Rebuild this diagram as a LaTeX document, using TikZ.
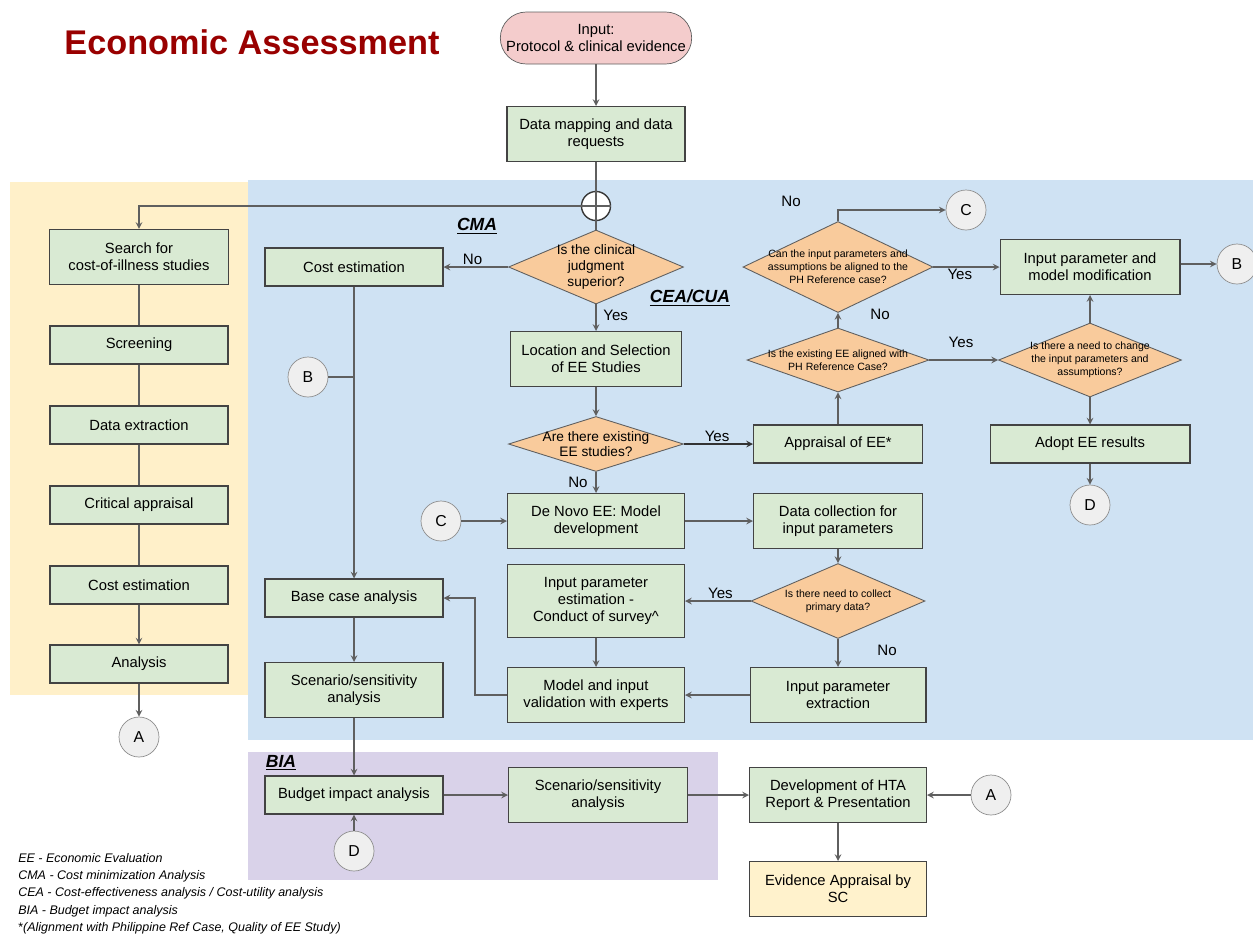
\documentclass[tikz,border=0pt]{standalone}
\usepackage{fontspec}
\setmainfont{Liberation Sans}
\usetikzlibrary{shapes.geometric, arrows}
\definecolor{boxgreen}{HTML}{D9EAD3}
\definecolor{askorange}{HTML}{F9CB9C}
\definecolor{startpink}{HTML}{F4CCCC}
\definecolor{scyellow}{HTML}{FFF2CC}
\definecolor{panelblue}{HTML}{CFE2F3}
\definecolor{panelyellow}{HTML}{FFF0C9}
\definecolor{panelpurple}{HTML}{D9D2E9}
\definecolor{ringgray}{HTML}{EFEFEF}
\definecolor{edgegray}{HTML}{5F5F5F}
\definecolor{titlered}{HTML}{990000}
\tikzstyle{block} = [rectangle,
minimum width=3.56cm,
minimum height=0.76cm,
inner sep=1pt,
text centered, align=center,
draw=edgegray!70!black, fill=boxgreen,
line width=0.6pt,
font=\fontsize{8.4}{9.6}\selectfont]
\tikzstyle{tallblock} = [block, minimum height=1.1cm]
\tikzstyle{start} = [rectangle, rounded corners=0.52cm,
minimum width=3.8cm,
minimum height=1.04cm,
align=center, draw=edgegray, fill=startpink,
font=\fontsize{8.4}{9.6}\selectfont]
\tikzstyle{decision} = [diamond, inner sep=0pt,
draw=edgegray, fill=askorange, line width=0.5pt]
\tikzstyle{asktext} = [align=center, inner sep=0pt,
font=\fontsize{7.8}{8.9}\selectfont]
\tikzstyle{smallask} = [asktext, font=\fontsize{6}{7.4}\selectfont]
\tikzstyle{connector} = [circle, minimum size=0.8cm, inner sep=0pt,
draw=edgegray!70, fill=ringgray,
font=\fontsize{9}{10}\selectfont]
\tikzstyle{answer} = [font=\fontsize{8.6}{10}\selectfont, inner sep=1pt]
\tikzstyle{section} = [font=\fontsize{10}{12}\selectfont\bfseries\itshape, inner sep=0pt]
\tikzstyle{arrow} = [->, >=stealth, draw=edgegray, line width=0.7pt]
\tikzstyle{line} = [draw=edgegray, line width=0.7pt]

\begin{document}
\begin{tikzpicture}[x=0.02cm, y=-0.02cm]
        \useasboundingbox (0,0) rectangle (1253,941);
        % panels
        \fill[panelyellow] (10,182) rectangle (248,695);
        \fill[panelblue] (248,180) rectangle (1253,740);
        \fill[panelpurple] (248,752) rectangle (718,880);

        \node (title) [text=titlered, font=\fontsize{19.5}{22}\selectfont\bfseries] at (252,42) {Economic Assessment};
        \node (cma) [section] at (477,226) {\underline{CMA}};
        \node (cea) [section] at (690,298) {\underline{CEA/CUA}};
        \node (bia) [section] at (281,763) {\underline{BIA}};

        \node (input) [start] at (596,38) {Input:\\Protocol \& clinical evidence};
        \node (datamap) [tallblock] at (596,134) {Data mapping and data\\requests};
        \node (junc) [circle, minimum size=0.58cm, inner sep=0pt, draw=edgegray!60!black, fill=white, line width=0.8pt] at (596,206) {};

        % cost-of-illness column
        \node (search) [tallblock, minimum width=3.58cm] at (139,257) {Search for\\cost-of-illness studies};
        \node (screen) [block] at (139,345) {Screening};
        \node (extract) [block] at (139,425) {Data extraction};
        \node (critical) [block] at (139,505) {Critical appraisal};
        \node (costcoi) [block] at (139,585) {Cost estimation};
        \node (analysis) [block] at (139,664) {Analysis};
        \node (ca1) [connector] at (139,737) {A};

        % CMA column
        \node (costcma) [block] at (354,267) {Cost estimation};
        \node (cb1) [connector] at (308,377) {B};
        \node (basecase) [block] at (354,598) {Base case analysis};
        \node (scenblue) [tallblock] at (354,690) {Scenario/sensitivity\\analysis};

        % CEA/CUA
        \node (qclin) [decision, minimum width=3.5cm, minimum height=1.48cm,
            label={[asktext]center:Is the clinical\\judgment\\superior?}] at (596,267) {};
        \node (locsel) [tallblock, minimum width=3.42cm] at (596,359) {Location and Selection\\of EE Studies};
        \node (qstudies) [decision, minimum width=3.5cm, minimum height=1.1cm,
            label={[asktext]center:Are there existing\\EE studies?}] at (596,444) {};
        \node (appraise) [block, minimum width=3.38cm] at (838,444) {Appraisal of EE*};
        \node (qexist) [decision, minimum width=3.64cm, minimum height=1.28cm,
            label={[smallask]center:Is the existing EE aligned with\\PH Reference Case?}] at (838,360) {};
        \node (qalign) [decision, minimum width=3.8cm, minimum height=1.82cm,
            label={[smallask]center:Can the input parameters and\\assumptions be aligned to the\\PH Reference case?}] at (838,267) {};
        \node (cc1) [connector] at (966,210) {C};
        \node (modify) [tallblock, minimum width=3.6cm] at (1090,267) {Input parameter and\\model modification};
        \node (cb2) [connector] at (1237,264) {B};
        \node (qchange) [decision, minimum width=3.66cm, minimum height=1.48cm,
            label={[smallask]center:Is there a need to change\\the  input parameters and\\assumptions?}] at (1090,360) {};
        \node (adopt) [block, minimum width=4cm] at (1090,444) {Adopt EE results};
        \node (cd1) [connector] at (1090,505) {D};

        \node (denovo) [tallblock, minimum width=3.54cm] at (596,521) {De Novo EE: Model\\development};
        \node (cc2) [connector] at (441,521) {C};
        \node (collect) [tallblock, minimum width=3.38cm] at (838,521) {Data collection for\\input parameters};
        \node (qprimary) [decision, minimum width=3.48cm, minimum height=1.5cm,
            label={[smallask]center:Is there need to collect\\primary data?}] at (838,601) {};
        \node (estimate) [block, minimum width=3.54cm, minimum height=1.46cm] at (596,601) {Input parameter\\estimation -\\Conduct of survey\textasciicircum};
        \node (paramext) [tallblock, minimum width=3.52cm] at (838,695) {Input parameter\\extraction};
        \node (validate) [tallblock, minimum width=3.54cm] at (596,695) {Model and input\\validation with experts};

        % BIA and reporting
        \node (budget) [block] at (354,795) {Budget impact analysis};
        \node (cd2) [connector] at (354,851) {D};
        \node (scenpurple) [tallblock, minimum width=3.58cm] at (598,795) {Scenario/sensitivity\\analysis};
        \node (hta) [tallblock, minimum width=3.54cm] at (838,795) {Development of HTA\\Report \&  Presentation};
        \node (ca2) [connector] at (991,795) {A};
        \node (scappraise) [tallblock, minimum width=3.54cm, fill=scyellow] at (838,889) {Evidence Appraisal by\\SC};

        \node (legend) [anchor=north west, align=left, inner sep=0pt,
            font=\fontsize{7.1}{9.8}\selectfont\itshape] at (18,853)
            {EE - Economic Evaluation\\CMA - Cost minimization Analysis\\CEA - Cost-effectiveness analysis / Cost-utility analysis\\BIA - Budget impact analysis\\{\upshape*}(Alignment with Philippine Ref Case, Quality of EE Study)};

        % connectors
        \draw [arrow] (input) -- (datamap);
        \draw [line] (datamap) -- (junc.north);
        \draw [line] (junc.north) -- (junc.south);
        \draw [line] (junc.west) -- (junc.east);
        \draw [line] (junc.south) -- (qclin.north);
        \draw [arrow] (junc.west) -| (search.north);

        \draw [line] (search) -- (screen);
        \draw [line] (screen) -- (extract);
        \draw [line] (extract) -- (critical);
        \draw [line] (critical) -- (costcoi);
        \draw [arrow] (costcoi) -- (analysis);
        \draw [arrow] (analysis) -- (ca1);

        \draw [arrow] (qclin.west) -- node[answer, pos=0.55, above] {No} (costcma.east);
        \draw [arrow] (qclin.south) -- node[answer, pos=0.4, right, xshift=0.1cm] {Yes} (locsel.north);
        \draw [arrow] (locsel) -- (qstudies.north);
        \draw [arrow, draw=black!80] (qstudies.east) -- node[answer, pos=0.48, above] {Yes} (appraise.west);
        \draw [arrow] (qstudies.south) -- node[answer, pos=0.5, left, xshift=-0.12cm] {No} (denovo.north);
        \draw [arrow] (cc2) -- (denovo);
        \draw [arrow] (appraise) -- (qexist.south);
        \draw [arrow] (qexist.north) -- node[answer, pos=0.9, anchor=west, xshift=0.6cm] {No} (qalign.south);
        \draw [arrow] (qalign.north) |- node[answer, pos=0, xshift=-0.94cm, yshift=0.4cm] {No} (cc1.west);
        \draw [arrow] (qalign.east) -- node[answer, pos=0.4, below] {Yes} (modify.west);
        \draw [arrow] (modify.east |- cb2) -- (cb2);
        \draw [arrow] (qexist.east) -- node[answer, pos=0.46, above, yshift=0.2cm] {Yes} (qchange.west);
        \draw [arrow] (qchange.north) -- (modify.south);
        \draw [arrow] (qchange.south) -- (adopt.north);
        \draw [arrow] (adopt) -- (cd1);

        \draw [arrow] (denovo) -- (collect);
        \draw [arrow] (collect) -- (qprimary.north);
        \draw [arrow] (qprimary.west) -- node[answer, pos=0.46, above] {Yes} (estimate.east);
        \draw [arrow] (qprimary.south) -- node[answer, pos=0.4, anchor=west, xshift=0.74cm] {No} (paramext.north);
        \draw [arrow] (estimate) -- (validate);
        \draw [arrow] (paramext) -- (validate);
        \draw [arrow] (validate.west) -- ++(-32,0) |- (basecase.east);

        \draw [arrow] (costcma) -- (basecase);
        \draw [line] (cb1) -- (354,377);
        \draw [arrow] (basecase) -- (scenblue);
        \draw [arrow] (scenblue) -- (budget);
        \draw [arrow] (cd2) -- (budget);
        \draw [arrow] (budget) -- (scenpurple);
        \draw [arrow] (scenpurple) -- (hta);
        \draw [arrow] (ca2) -- (hta);
        \draw [arrow] (hta) -- (scappraise);
    \end{tikzpicture}
\end{document}
